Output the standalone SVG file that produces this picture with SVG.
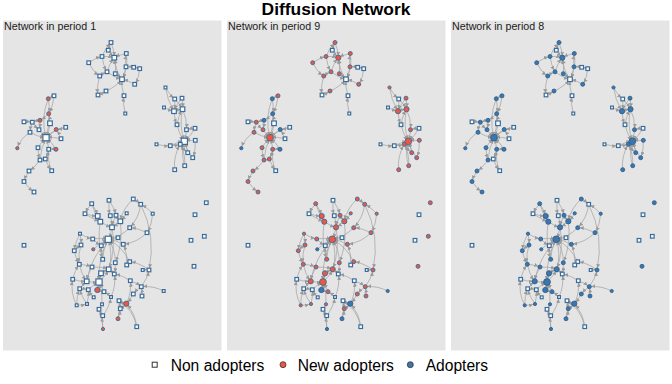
<svg xmlns="http://www.w3.org/2000/svg" xmlns:xlink="http://www.w3.org/1999/xlink" width="672" height="384" viewBox="0 0 672 384">
<style>
.w{fill:#fff;stroke:#3a6c9b;stroke-width:1.2}
.r{fill:#f2553e;stroke:#3a6c9b;stroke-width:0.9}
.b{fill:#3b77ad;stroke:#2e6190;stroke-width:0.9}
.e path{fill:none;stroke:#a2a2a2;stroke-opacity:0.8;stroke-width:0.9;marker-end:url(#ar)}
.pt{font-family:"Liberation Sans",Arial,sans-serif;font-size:10.7px;fill:#1a1a1a}
.lg{font-family:"Liberation Sans",Arial,sans-serif;font-size:15.6px;fill:#000}
.panel{fill:#e5e5e5}
</style>
<defs>
<marker id="ar" viewBox="0 0 10 10" refX="15" refY="5" markerWidth="4" markerHeight="4" markerUnits="userSpaceOnUse" orient="auto"><path d="M0 0L10 5L0 10z" fill="#9a9a9a"/></marker>
<rect id="wt" class="w" x="-1.4" y="-1.4" width="2.8" height="2.8"/>
<rect id="ws" class="w" x="-1.8" y="-1.8" width="3.6" height="3.6"/>
<rect id="wm" class="w" x="-2.3" y="-2.3" width="4.6" height="4.6"/>
<rect id="wl" class="w" x="-3.1" y="-3.1" width="6.2" height="6.2"/>
<circle id="rt" class="r" r="1.6"/>
<circle id="rs" class="r" r="2"/>
<circle id="rm" class="r" r="2.6"/>
<circle id="rl" class="r" r="3.4"/>
<circle id="bt" class="b" r="1.6"/>
<circle id="bs" class="b" r="2"/>
<circle id="bm" class="b" r="2.6"/>
<circle id="bl" class="b" r="3.4"/>
<g id="edges" class="e">
<path d="M108.3 50.2A40 40 0 0 1 111 42.5"/>
<path d="M102 56.5A40 40 0 0 1 111 42.5"/>
<path d="M111 42.5A40 40 0 0 1 114.3 57.7"/>
<path d="M108.3 50.2A40 40 0 0 0 114.3 57.7"/>
<path d="M102 56.5A40 40 0 0 1 114.3 57.7"/>
<path d="M126.3 53.5A40 40 0 0 0 114.3 57.7"/>
<path d="M88.7 62.7A40 40 0 0 1 102 56.5"/>
<path d="M88.7 62.7A30 30 0 0 0 99.7 76"/>
<path d="M107 71.8A40 40 0 0 1 114.3 57.7"/>
<path d="M115.3 73.7A40 40 0 0 0 114.3 57.7"/>
<path d="M122 79.3A40 40 0 0 1 114.3 57.7"/>
<path d="M126 66.8A40 40 0 0 1 126.3 53.5"/>
<path d="M126 66.8A40 40 0 0 1 122 79.3"/>
<path d="M133.7 67.3A40 40 0 0 0 126 66.8"/>
<path d="M139.7 68.7A40 40 0 0 0 133.7 67.3"/>
<path d="M139.7 68.7A30 30 0 0 1 134.7 84.3"/>
<path d="M134.7 84.3A40 40 0 0 0 122 79.3"/>
<path d="M107 71.8A40 40 0 0 0 122 79.3"/>
<path d="M115.3 73.7A40 40 0 0 1 122 79.3"/>
<path d="M99.7 76A40 40 0 0 1 107 71.8"/>
<path d="M106 91A40 40 0 0 0 122 79.3"/>
<path d="M98 95A40 40 0 0 0 106 91"/>
<path d="M99.7 76A40 40 0 0 0 98 95"/>
<path d="M124 95.7A40 40 0 0 1 122 79.3"/>
<path d="M125.3 113.5A40 40 0 0 1 124 95.7"/>
<path d="M126.3 53.5A40 40 0 0 1 122 79.3"/>
<path d="M102 56.5A40 40 0 0 0 107 71.8"/>
<path d="M165.5 87.5A40 40 0 0 0 174.7 99"/>
<path d="M165.5 87.5A60 60 0 0 0 174 111.2"/>
<path d="M174.7 99A40 40 0 0 1 174 111.2"/>
<path d="M182 98.2A40 40 0 0 0 174 111.2"/>
<path d="M182 98.2A40 40 0 0 1 182.5 109.2"/>
<path d="M164 107.5A40 40 0 0 0 174 111.2"/>
<path d="M174 111.2A40 40 0 0 1 182.5 109.2"/>
<path d="M174.7 99A40 40 0 0 1 182.5 109.2"/>
<path d="M182.5 109.2A40 40 0 0 1 186.5 129.7"/>
<path d="M177 124.7A40 40 0 0 0 184.3 141.3"/>
<path d="M186.5 129.7A40 40 0 0 1 184.3 141.3"/>
<path d="M195 128.3A40 40 0 0 1 184.3 141.3"/>
<path d="M195 128.3A40 40 0 0 0 186.5 129.7"/>
<path d="M180.3 144.3A40 40 0 0 0 184.3 141.3"/>
<path d="M195.3 140.3A40 40 0 0 0 184.3 141.3"/>
<path d="M156.5 144.3A40 40 0 0 0 170.3 145.7"/>
<path d="M170.3 145.7A40 40 0 0 0 180.3 144.3"/>
<path d="M187.7 152.7A40 40 0 0 0 184.3 141.3"/>
<path d="M192.7 157.7A40 40 0 0 1 184.3 141.3"/>
<path d="M184.7 165.7A40 40 0 0 1 184.3 141.3"/>
<path d="M174.7 169.7A40 40 0 0 1 180.3 144.3"/>
<path d="M182.5 109.2A60 60 0 0 0 184.3 141.3"/>
<path d="M177 124.7A40 40 0 0 1 182.5 109.2"/>
<path d="M195.3 140.3A40 40 0 0 1 192.7 157.7"/>
<path d="M180.3 144.3A40 40 0 0 0 187.7 152.7"/>
<path d="M170.3 145.7A40 40 0 0 1 184.3 141.3"/>
<path d="M184.7 165.7A40 40 0 0 0 180.3 144.3"/>
<path d="M174 111.2A40 40 0 0 0 177 124.7"/>
<path d="M54 95.8A40 40 0 0 0 48.3 98.7"/>
<path d="M48.3 98.7A40 40 0 0 1 48.7 113.7"/>
<path d="M54 95.8A40 40 0 0 1 48.7 113.7"/>
<path d="M48.7 113.7A40 40 0 0 1 40 120.3"/>
<path d="M48.7 113.7A60 60 0 0 1 46 137.7"/>
<path d="M40 120.3A40 40 0 0 0 32.3 122.2"/>
<path d="M24 121.8A40 40 0 0 1 32.3 122.2"/>
<path d="M32.3 122.2A40 40 0 0 0 39 129.7"/>
<path d="M50 123.3A40 40 0 0 1 46 137.7"/>
<path d="M39 129.7A40 40 0 0 0 46 137.7"/>
<path d="M56.2 129.5A40 40 0 0 0 46 137.7"/>
<path d="M65.7 127.3A40 40 0 0 0 46 137.7"/>
<path d="M30 132.3A40 40 0 0 0 46 137.7"/>
<path d="M30 132.3A30 30 0 0 0 17.3 148.2"/>
<path d="M61 138.7A40 40 0 0 0 46 137.7"/>
<path d="M38 147.7A40 40 0 0 1 46 137.7"/>
<path d="M48.7 149.3A40 40 0 0 0 46 137.7"/>
<path d="M56 149.3A40 40 0 0 0 46 137.7"/>
<path d="M61 138.7A40 40 0 0 0 56.2 129.5"/>
<path d="M38 147.7A40 40 0 0 0 40 160"/>
<path d="M48.7 149.3A40 40 0 0 1 45.3 159"/>
<path d="M45.3 159A40 40 0 0 1 40 160"/>
<path d="M56 149.3A40 40 0 0 0 48.7 149.3"/>
<path d="M45.3 159A40 40 0 0 0 51.7 170.7"/>
<path d="M40 160A40 40 0 0 1 29 171"/>
<path d="M29 171A40 40 0 0 0 24 181.5"/>
<path d="M24 181.5A40 40 0 0 0 34 192"/>
<path d="M40 120.3A40 40 0 0 1 39 129.7"/>
<path d="M50 123.3A40 40 0 0 0 48.7 113.7"/>
<path d="M65.7 127.3A40 40 0 0 1 56.2 129.5"/>
<path d="M48.3 98.7A60 60 0 0 0 46 137.7"/>
<path d="M32.3 122.2A40 40 0 0 0 30 132.3"/>
<path d="M40 160A60 60 0 0 1 46 137.7"/>
<path d="M51.7 170.7A40 40 0 0 1 48.7 149.3"/>
<path d="M91.7 203.7A40 40 0 0 1 97.7 216"/>
<path d="M91.7 203.7A60 60 0 0 0 100.3 221.7"/>
<path d="M109 200.3A40 40 0 0 0 110.3 215.7"/>
<path d="M109 200.3A40 40 0 0 1 116 215.3"/>
<path d="M133.3 199A40 40 0 0 1 140.7 204.3"/>
<path d="M133.3 199A40 40 0 0 0 120.3 221.3"/>
<path d="M140.7 204.3A40 40 0 0 1 129.7 227.7"/>
<path d="M152.7 213.7A40 40 0 0 1 147 232.7"/>
<path d="M85 213.7A40 40 0 0 0 97.7 216"/>
<path d="M85 213.7A60 60 0 0 0 100.3 221.7"/>
<path d="M97.7 216A40 40 0 0 0 100.3 221.7"/>
<path d="M110.3 215.7A40 40 0 0 1 112 227.3"/>
<path d="M116 215.3A40 40 0 0 0 120.3 221.3"/>
<path d="M126.7 213.3A40 40 0 0 1 120.3 221.3"/>
<path d="M100.3 221.7A40 40 0 0 0 112 227.3"/>
<path d="M120.3 221.3A40 40 0 0 1 112 227.3"/>
<path d="M112 227.3A40 40 0 0 1 108.3 239.3"/>
<path d="M129.7 227.7A40 40 0 0 1 108.3 239.3"/>
<path d="M147 232.7A40 40 0 0 0 129.7 227.7"/>
<path d="M80 233.7A40 40 0 0 0 92.7 239"/>
<path d="M80 233.7A40 40 0 0 1 81 245"/>
<path d="M118 237.7A40 40 0 0 0 108.3 239.3"/>
<path d="M92.7 239A40 40 0 0 1 108.3 239.3"/>
<path d="M123.3 244.3A40 40 0 0 0 108.3 239.3"/>
<path d="M81 245A40 40 0 0 0 74.3 250.7"/>
<path d="M101.3 245.7A40 40 0 0 0 108.3 239.3"/>
<path d="M74.3 250.7A40 40 0 0 0 79.3 264.3"/>
<path d="M93.3 249.3A40 40 0 0 1 108.3 239.3"/>
<path d="M102.7 259.3A40 40 0 0 1 108.3 239.3"/>
<path d="M115.3 262.7A40 40 0 0 0 108.3 239.3"/>
<path d="M129.7 261.7A50 50 0 0 0 108.3 239.3"/>
<path d="M129.7 261.7A40 40 0 0 1 126.7 265"/>
<path d="M126.7 265A40 40 0 0 0 123.3 244.3"/>
<path d="M79.3 264.3A40 40 0 0 0 86.7 281.3"/>
<path d="M92 267A40 40 0 0 1 108.7 269.3"/>
<path d="M108.7 269.3A50 50 0 0 0 108.3 239.3"/>
<path d="M142.7 270A40 40 0 0 1 149 270"/>
<path d="M149 270A40 40 0 0 0 129.7 261.7"/>
<path d="M101 273.3A40 40 0 0 1 108.7 269.3"/>
<path d="M114.3 274A40 40 0 0 0 108.7 269.3"/>
<path d="M72.7 279.3A40 40 0 0 0 86.7 281.3"/>
<path d="M86.7 281.3A40 40 0 0 0 99 282"/>
<path d="M99 282A40 40 0 0 0 108.7 269.3"/>
<path d="M130.3 280.7A40 40 0 0 1 141.3 286.7"/>
<path d="M79.7 288.7A40 40 0 0 1 86.7 281.3"/>
<path d="M88.3 289.7A40 40 0 0 1 99 282"/>
<path d="M97.3 290A40 40 0 0 0 99 282"/>
<path d="M104 291.7A40 40 0 0 0 99 282"/>
<path d="M141.3 286.7A40 40 0 0 0 133.3 294"/>
<path d="M163.7 291A40 40 0 0 0 141.3 286.7"/>
<path d="M133.3 294A40 40 0 0 1 126.3 303.7"/>
<path d="M142 296A40 40 0 0 0 141.3 286.7"/>
<path d="M111 297A40 40 0 0 0 104 291.7"/>
<path d="M93.7 297.3A40 40 0 0 1 88.3 289.7"/>
<path d="M119 300.7A40 40 0 0 0 126.3 303.7"/>
<path d="M102 304.3A50 50 0 0 0 99 282"/>
<path d="M76.7 305.3A40 40 0 0 1 79.7 288.7"/>
<path d="M87 304A40 40 0 0 0 88.3 289.7"/>
<path d="M126.3 303.7A40 40 0 0 0 130.3 280.7"/>
<path d="M99 309.3A40 40 0 0 0 102 304.3"/>
<path d="M120.3 308.7A40 40 0 0 0 126.3 303.7"/>
<path d="M102.7 315.7A40 40 0 0 1 99 309.3"/>
<path d="M118 318.7A40 40 0 0 0 119 300.7"/>
<path d="M136.7 326.7A40 40 0 0 0 126.3 303.7"/>
<path d="M103 329A40 40 0 0 1 102.7 315.7"/>
<path d="M115.3 262.7A40 40 0 0 1 114.3 274"/>
<path d="M101 273.3A40 40 0 0 0 99 282"/>
<path d="M102.7 259.3A40 40 0 0 1 101.3 245.7"/>
<path d="M92.7 239A40 40 0 0 0 101.3 245.7"/>
<path d="M120.3 221.3A80 80 0 0 1 115.3 262.7"/>
<path d="M100.3 221.7A80 80 0 0 0 102.7 259.3"/>
<path d="M112 227.3A80 80 0 0 1 108.7 269.3"/>
<path d="M108.3 239.3A80 80 0 0 0 99 282"/>
<path d="M108.3 239.3A80 80 0 0 0 86.7 281.3"/>
<path d="M92 267A40 40 0 0 0 86.7 281.3"/>
<path d="M81 245A40 40 0 0 0 79.3 264.3"/>
<path d="M76.7 305.3A40 40 0 0 1 72.7 279.3"/>
<path d="M87 304A40 40 0 0 1 79.7 288.7"/>
<path d="M97.3 290A40 40 0 0 0 104 291.7"/>
<path d="M118 318.7A40 40 0 0 0 120.3 308.7"/>
<path d="M130.3 280.7A40 40 0 0 0 114.3 274"/>
<path d="M141.3 286.7A40 40 0 0 0 149 270"/>
<path d="M140.7 204.3A100 100 0 0 1 149 270"/>
<path d="M136.7 326.7A40 40 0 0 0 119 300.7"/>
<path d="M103 329A50 50 0 0 0 99 309.3"/>
<path d="M80 233.7A40 40 0 0 0 74.3 250.7"/>
<path d="M79.3 264.3A40 40 0 0 1 92 267"/>
<path d="M116 215.3A40 40 0 0 0 112 227.3"/>
<path d="M91.7 203.7A40 40 0 0 0 85 213.7"/>
<path d="M147 232.7A40 40 0 0 1 123.3 244.3"/>
<path d="M111 297A40 40 0 0 0 114.3 274"/>
<path d="M102.7 315.7A40 40 0 0 0 111 297"/>
<path d="M79.7 288.7A40 40 0 0 1 88.3 289.7"/>
<path d="M72.7 279.3A40 40 0 0 1 79.3 264.3"/>
<path d="M76.7 305.3A40 40 0 0 0 87 304"/>
<path d="M152.7 213.7A40 40 0 0 0 140.7 204.3"/>
</g>
</defs>
<rect width="672" height="384" fill="#fff"/>
<text x="336" y="14.5" text-anchor="middle" font-family="Liberation Sans, Arial, sans-serif" font-weight="bold" font-size="17.4" fill="#000">Diffusion Network</text>
<g id="panels">
<rect class="panel" x="3" y="20.5" width="218.5" height="330"/>
<rect class="panel" x="227" y="20.5" width="218.5" height="330"/>
<rect class="panel" x="451" y="20.5" width="218.5" height="330"/>
<text class="pt" x="4" y="29.5">Network in period 1</text>
<text class="pt" x="228" y="29.5">Network in period 9</text>
<text class="pt" x="452" y="29.5">Network in period 8</text>
</g>
<g id="connectors">
<use href="#edges"/>
<use href="#edges" x="224"/>
<use href="#edges" x="448"/>
</g>
<g id="nodes-p1">
<g id="a-T1"><use href="#ws" x="111" y="42.5"/></g>
<g id="a-T2"><use href="#ws" x="108.3" y="50.2"/></g>
<g id="a-T3"><use href="#ws" x="102" y="56.5"/></g>
<g id="a-T4"><use href="#wm" x="114.3" y="57.7"/></g>
<g id="a-T5"><use href="#ws" x="126.3" y="53.5"/></g>
<g id="a-T6"><use href="#ws" x="88.7" y="62.7"/></g>
<g id="a-T7"><use href="#ws" x="126" y="66.8"/></g>
<g id="a-T8"><use href="#ws" x="133.7" y="67.3"/></g>
<g id="a-T9"><use href="#ws" x="139.7" y="68.7"/></g>
<g id="a-T10"><use href="#ws" x="107" y="71.8"/></g>
<g id="a-T11"><use href="#ws" x="115.3" y="73.7"/></g>
<g id="a-T12"><use href="#ws" x="99.7" y="76"/></g>
<g id="a-T13"><use href="#wm" x="122" y="79.3"/></g>
<g id="a-T14"><use href="#ws" x="134.7" y="84.3"/></g>
<g id="a-T15"><use href="#ws" x="106" y="91"/></g>
<g id="a-T16"><use href="#ws" x="98" y="95"/></g>
<g id="a-T17"><use href="#ws" x="124" y="95.7"/></g>
<g id="a-T18"><use href="#wt" x="125.3" y="113.5"/></g>
<g id="a-R1"><use href="#wt" x="165.5" y="87.5"/></g>
<g id="a-R2"><use href="#ws" x="174.7" y="99"/></g>
<g id="a-R3"><use href="#ws" x="182" y="98.2"/></g>
<g id="a-R4"><use href="#wt" x="164" y="107.5"/></g>
<g id="a-R5"><use href="#wm" x="174" y="111.2"/></g>
<g id="a-R6"><use href="#wm" x="182.5" y="109.2"/></g>
<g id="a-R7"><use href="#ws" x="177" y="124.7"/></g>
<g id="a-R8"><use href="#ws" x="186.5" y="129.7"/></g>
<g id="a-R9"><use href="#ws" x="195" y="128.3"/></g>
<g id="a-R10"><use href="#wl" x="184.3" y="141.3"/></g>
<g id="a-R11"><use href="#ws" x="180.3" y="144.3"/></g>
<g id="a-R12"><use href="#ws" x="195.3" y="140.3"/></g>
<g id="a-R13"><use href="#wt" x="156.5" y="144.3"/></g>
<g id="a-R14"><use href="#ws" x="170.3" y="145.7"/></g>
<g id="a-R15"><use href="#ws" x="187.7" y="152.7"/></g>
<g id="a-R16"><use href="#ws" x="192.7" y="157.7"/></g>
<g id="a-R17"><use href="#ws" x="184.7" y="165.7"/></g>
<g id="a-R18"><use href="#ws" x="174.7" y="169.7"/></g>
<g id="a-L1"><use href="#ws" x="54" y="95.8"/></g>
<g id="a-L2"><use href="#rs" x="48.3" y="98.7"/></g>
<g id="a-L3"><use href="#rs" x="48.7" y="113.7"/></g>
<g id="a-L4"><use href="#rs" x="40" y="120.3"/></g>
<g id="a-L5"><use href="#ws" x="24" y="121.8"/></g>
<g id="a-L6"><use href="#ws" x="32.3" y="122.2"/></g>
<g id="a-L7"><use href="#wm" x="50" y="123.3"/></g>
<g id="a-L8"><use href="#ws" x="39" y="129.7"/></g>
<g id="a-L9"><use href="#rs" x="56.2" y="129.5"/></g>
<g id="a-L10"><use href="#ws" x="65.7" y="127.3"/></g>
<g id="a-L11"><use href="#ws" x="30" y="132.3"/></g>
<g id="a-L12"><use href="#wl" x="46" y="137.7"/></g>
<g id="a-L13"><use href="#ws" x="61" y="138.7"/></g>
<g id="a-L14"><use href="#ws" x="38" y="147.7"/></g>
<g id="a-L15"><use href="#rt" x="17.3" y="148.2"/></g>
<g id="a-L16"><use href="#ws" x="48.7" y="149.3"/></g>
<g id="a-L17"><use href="#rs" x="56" y="149.3"/></g>
<g id="a-L18"><use href="#ws" x="45.3" y="159"/></g>
<g id="a-L19"><use href="#ws" x="40" y="160"/></g>
<g id="a-L20"><use href="#ws" x="51.7" y="170.7"/></g>
<g id="a-L21"><use href="#ws" x="29" y="171"/></g>
<g id="a-L22"><use href="#ws" x="24" y="181.5"/></g>
<g id="a-L23"><use href="#ws" x="34" y="192"/></g>
<g id="a-B1"><use href="#ws" x="91.7" y="203.7"/></g>
<g id="a-B2"><use href="#ws" x="109" y="200.3"/></g>
<g id="a-B3"><use href="#ws" x="133.3" y="199"/></g>
<g id="a-B4"><use href="#ws" x="140.7" y="204.3"/></g>
<g id="a-B5"><use href="#wt" x="152.7" y="213.7"/></g>
<g id="a-B6"><use href="#ws" x="85" y="213.7"/></g>
<g id="a-B7"><use href="#wm" x="97.7" y="216"/></g>
<g id="a-B8"><use href="#ws" x="110.3" y="215.7"/></g>
<g id="a-B9"><use href="#ws" x="116" y="215.3"/></g>
<g id="a-B10"><use href="#wt" x="126.7" y="213.3"/></g>
<g id="a-B11"><use href="#wm" x="100.3" y="221.7"/></g>
<g id="a-B12"><use href="#wm" x="120.3" y="221.3"/></g>
<g id="a-B13"><use href="#wm" x="112" y="227.3"/></g>
<g id="a-B14"><use href="#ws" x="129.7" y="227.7"/></g>
<g id="a-B15"><use href="#ws" x="147" y="232.7"/></g>
<g id="a-B16"><use href="#wt" x="80" y="233.7"/></g>
<g id="a-B17"><use href="#wl" x="108.3" y="239.3"/></g>
<g id="a-B18"><use href="#ws" x="118" y="237.7"/></g>
<g id="a-B19"><use href="#ws" x="92.7" y="239"/></g>
<g id="a-B20"><use href="#ws" x="123.3" y="244.3"/></g>
<g id="a-B21"><use href="#ws" x="81" y="245"/></g>
<g id="a-B22"><use href="#ws" x="101.3" y="245.7"/></g>
<g id="a-B23"><use href="#ws" x="74.3" y="250.7"/></g>
<g id="a-B24"><use href="#rt" x="93.3" y="249.3"/></g>
<g id="a-B25"><use href="#ws" x="102.7" y="259.3"/></g>
<g id="a-B26"><use href="#ws" x="115.3" y="262.7"/></g>
<g id="a-B27"><use href="#ws" x="129.7" y="261.7"/></g>
<g id="a-B28"><use href="#ws" x="126.7" y="265"/></g>
<g id="a-B29"><use href="#ws" x="79.3" y="264.3"/></g>
<g id="a-B30"><use href="#ws" x="92" y="267"/></g>
<g id="a-B31"><use href="#wm" x="108.7" y="269.3"/></g>
<g id="a-B32"><use href="#wt" x="142.7" y="270"/></g>
<g id="a-B33"><use href="#ws" x="149" y="270"/></g>
<g id="a-B34"><use href="#wm" x="101" y="273.3"/></g>
<g id="a-B35"><use href="#ws" x="114.3" y="274"/></g>
<g id="a-B36"><use href="#ws" x="72.7" y="279.3"/></g>
<g id="a-B37"><use href="#wm" x="86.7" y="281.3"/></g>
<g id="a-B38"><use href="#wl" x="99" y="282"/></g>
<g id="a-B39"><use href="#ws" x="130.3" y="280.7"/></g>
<g id="a-B40"><use href="#ws" x="79.7" y="288.7"/></g>
<g id="a-B41"><use href="#ws" x="88.3" y="289.7"/></g>
<g id="a-B42"><use href="#rm" x="97.3" y="290"/></g>
<g id="a-B43"><use href="#ws" x="104" y="291.7"/></g>
<g id="a-B44"><use href="#ws" x="141.3" y="286.7"/></g>
<g id="a-B45"><use href="#wt" x="163.7" y="291"/></g>
<g id="a-B46"><use href="#ws" x="133.3" y="294"/></g>
<g id="a-B47"><use href="#ws" x="142" y="296"/></g>
<g id="a-B48"><use href="#wt" x="111" y="297"/></g>
<g id="a-B49"><use href="#wt" x="93.7" y="297.3"/></g>
<g id="a-B50"><use href="#ws" x="119" y="300.7"/></g>
<g id="a-B51"><use href="#wt" x="102" y="304.3"/></g>
<g id="a-B52"><use href="#wt" x="76.7" y="305.3"/></g>
<g id="a-B53"><use href="#wt" x="87" y="304"/></g>
<g id="a-B54"><use href="#rm" x="126.3" y="303.7"/></g>
<g id="a-B55"><use href="#ws" x="99" y="309.3"/></g>
<g id="a-B56"><use href="#ws" x="120.3" y="308.7"/></g>
<g id="a-B57"><use href="#ws" x="102.7" y="315.7"/></g>
<g id="a-B58"><use href="#rs" x="118" y="318.7"/></g>
<g id="a-B59"><use href="#ws" x="136.7" y="326.7"/></g>
<g id="a-B60"><use href="#rt" x="103" y="329"/></g>
<g id="a-I1"><use href="#ws" x="24" y="245.3"/></g>
<g id="a-I2"><use href="#ws" x="206.3" y="202.7"/></g>
<g id="a-I3"><use href="#ws" x="195" y="214.7"/></g>
<g id="a-I4"><use href="#ws" x="191" y="240.3"/></g>
<g id="a-I5"><use href="#ws" x="204.3" y="236.3"/></g>
<g id="a-I6"><use href="#ws" x="194" y="266.3"/></g>
</g>
<g id="nodes-p2" transform="translate(224 0)">
<g id="b-T1"><use href="#rs" x="111" y="42.5"/></g>
<g id="b-T2"><use href="#ws" x="108.3" y="50.2"/></g>
<g id="b-T3"><use href="#rs" x="102" y="56.5"/></g>
<g id="b-T4"><use href="#rm" x="114.3" y="57.7"/></g>
<g id="b-T5"><use href="#rs" x="126.3" y="53.5"/></g>
<g id="b-T6"><use href="#rs" x="88.7" y="62.7"/></g>
<g id="b-T7"><use href="#rs" x="126" y="66.8"/></g>
<g id="b-T8"><use href="#ws" x="133.7" y="67.3"/></g>
<g id="b-T9"><use href="#ws" x="139.7" y="68.7"/></g>
<g id="b-T10"><use href="#rs" x="107" y="71.8"/></g>
<g id="b-T11"><use href="#rs" x="115.3" y="73.7"/></g>
<g id="b-T12"><use href="#rs" x="99.7" y="76"/></g>
<g id="b-T13"><use href="#wm" x="122" y="79.3"/></g>
<g id="b-T14"><use href="#rs" x="134.7" y="84.3"/></g>
<g id="b-T15"><use href="#rs" x="106" y="91"/></g>
<g id="b-T16"><use href="#ws" x="98" y="95"/></g>
<g id="b-T17"><use href="#ws" x="124" y="95.7"/></g>
<g id="b-T18"><use href="#wt" x="125.3" y="113.5"/></g>
<g id="b-R1"><use href="#rt" x="165.5" y="87.5"/></g>
<g id="b-R2"><use href="#ws" x="174.7" y="99"/></g>
<g id="b-R3"><use href="#rs" x="182" y="98.2"/></g>
<g id="b-R4"><use href="#wt" x="164" y="107.5"/></g>
<g id="b-R5"><use href="#rm" x="174" y="111.2"/></g>
<g id="b-R6"><use href="#rm" x="182.5" y="109.2"/></g>
<g id="b-R7"><use href="#ws" x="177" y="124.7"/></g>
<g id="b-R8"><use href="#rs" x="186.5" y="129.7"/></g>
<g id="b-R9"><use href="#ws" x="195" y="128.3"/></g>
<g id="b-R10"><use href="#rl" x="184.3" y="141.3"/></g>
<g id="b-R11"><use href="#rs" x="180.3" y="144.3"/></g>
<g id="b-R12"><use href="#rs" x="195.3" y="140.3"/></g>
<g id="b-R13"><use href="#wt" x="156.5" y="144.3"/></g>
<g id="b-R14"><use href="#ws" x="170.3" y="145.7"/></g>
<g id="b-R15"><use href="#rs" x="187.7" y="152.7"/></g>
<g id="b-R16"><use href="#rs" x="192.7" y="157.7"/></g>
<g id="b-R17"><use href="#rs" x="184.7" y="165.7"/></g>
<g id="b-R18"><use href="#rs" x="174.7" y="169.7"/></g>
<g id="b-L1"><use href="#rs" x="54" y="95.8"/></g>
<g id="b-L2"><use href="#bs" x="48.3" y="98.7"/></g>
<g id="b-L3"><use href="#bs" x="48.7" y="113.7"/></g>
<g id="b-L4"><use href="#bs" x="40" y="120.3"/></g>
<g id="b-L5"><use href="#ws" x="24" y="121.8"/></g>
<g id="b-L6"><use href="#rs" x="32.3" y="122.2"/></g>
<g id="b-L7"><use href="#wm" x="50" y="123.3"/></g>
<g id="b-L8"><use href="#rs" x="39" y="129.7"/></g>
<g id="b-L9"><use href="#bs" x="56.2" y="129.5"/></g>
<g id="b-L10"><use href="#ws" x="65.7" y="127.3"/></g>
<g id="b-L11"><use href="#rs" x="30" y="132.3"/></g>
<g id="b-L12"><use href="#rl" x="46" y="137.7"/></g>
<g id="b-L13"><use href="#ws" x="61" y="138.7"/></g>
<g id="b-L14"><use href="#rs" x="38" y="147.7"/></g>
<g id="b-L15"><use href="#bt" x="17.3" y="148.2"/></g>
<g id="b-L16"><use href="#rs" x="48.7" y="149.3"/></g>
<g id="b-L17"><use href="#bs" x="56" y="149.3"/></g>
<g id="b-L18"><use href="#rs" x="45.3" y="159"/></g>
<g id="b-L19"><use href="#rs" x="40" y="160"/></g>
<g id="b-L20"><use href="#ws" x="51.7" y="170.7"/></g>
<g id="b-L21"><use href="#rs" x="29" y="171"/></g>
<g id="b-L22"><use href="#rs" x="24" y="181.5"/></g>
<g id="b-L23"><use href="#rs" x="34" y="192"/></g>
<g id="b-B1"><use href="#rs" x="91.7" y="203.7"/></g>
<g id="b-B2"><use href="#ws" x="109" y="200.3"/></g>
<g id="b-B3"><use href="#rs" x="133.3" y="199"/></g>
<g id="b-B4"><use href="#rs" x="140.7" y="204.3"/></g>
<g id="b-B5"><use href="#rt" x="152.7" y="213.7"/></g>
<g id="b-B6"><use href="#ws" x="85" y="213.7"/></g>
<g id="b-B7"><use href="#rm" x="97.7" y="216"/></g>
<g id="b-B8"><use href="#ws" x="110.3" y="215.7"/></g>
<g id="b-B9"><use href="#rs" x="116" y="215.3"/></g>
<g id="b-B10"><use href="#rt" x="126.7" y="213.3"/></g>
<g id="b-B11"><use href="#rm" x="100.3" y="221.7"/></g>
<g id="b-B12"><use href="#rm" x="120.3" y="221.3"/></g>
<g id="b-B13"><use href="#rm" x="112" y="227.3"/></g>
<g id="b-B14"><use href="#rs" x="129.7" y="227.7"/></g>
<g id="b-B15"><use href="#rs" x="147" y="232.7"/></g>
<g id="b-B16"><use href="#rt" x="80" y="233.7"/></g>
<g id="b-B17"><use href="#rl" x="108.3" y="239.3"/></g>
<g id="b-B18"><use href="#ws" x="118" y="237.7"/></g>
<g id="b-B19"><use href="#rs" x="92.7" y="239"/></g>
<g id="b-B20"><use href="#rs" x="123.3" y="244.3"/></g>
<g id="b-B21"><use href="#rs" x="81" y="245"/></g>
<g id="b-B22"><use href="#ws" x="101.3" y="245.7"/></g>
<g id="b-B23"><use href="#rs" x="74.3" y="250.7"/></g>
<g id="b-B24"><use href="#bt" x="93.3" y="249.3"/></g>
<g id="b-B25"><use href="#rs" x="102.7" y="259.3"/></g>
<g id="b-B26"><use href="#rs" x="115.3" y="262.7"/></g>
<g id="b-B27"><use href="#rs" x="129.7" y="261.7"/></g>
<g id="b-B28"><use href="#ws" x="126.7" y="265"/></g>
<g id="b-B29"><use href="#rs" x="79.3" y="264.3"/></g>
<g id="b-B30"><use href="#rs" x="92" y="267"/></g>
<g id="b-B31"><use href="#rm" x="108.7" y="269.3"/></g>
<g id="b-B32"><use href="#wt" x="142.7" y="270"/></g>
<g id="b-B33"><use href="#rs" x="149" y="270"/></g>
<g id="b-B34"><use href="#rm" x="101" y="273.3"/></g>
<g id="b-B35"><use href="#ws" x="114.3" y="274"/></g>
<g id="b-B36"><use href="#ws" x="72.7" y="279.3"/></g>
<g id="b-B37"><use href="#rm" x="86.7" y="281.3"/></g>
<g id="b-B38"><use href="#rl" x="99" y="282"/></g>
<g id="b-B39"><use href="#ws" x="130.3" y="280.7"/></g>
<g id="b-B40"><use href="#ws" x="79.7" y="288.7"/></g>
<g id="b-B41"><use href="#ws" x="88.3" y="289.7"/></g>
<g id="b-B42"><use href="#bm" x="97.3" y="290"/></g>
<g id="b-B43"><use href="#rs" x="104" y="291.7"/></g>
<g id="b-B44"><use href="#rs" x="141.3" y="286.7"/></g>
<g id="b-B45"><use href="#bt" x="163.7" y="291"/></g>
<g id="b-B46"><use href="#rs" x="133.3" y="294"/></g>
<g id="b-B47"><use href="#rs" x="142" y="296"/></g>
<g id="b-B48"><use href="#wt" x="111" y="297"/></g>
<g id="b-B49"><use href="#wt" x="93.7" y="297.3"/></g>
<g id="b-B50"><use href="#ws" x="119" y="300.7"/></g>
<g id="b-B51"><use href="#rt" x="102" y="304.3"/></g>
<g id="b-B52"><use href="#rt" x="76.7" y="305.3"/></g>
<g id="b-B53"><use href="#rt" x="87" y="304"/></g>
<g id="b-B54"><use href="#bm" x="126.3" y="303.7"/></g>
<g id="b-B55"><use href="#ws" x="99" y="309.3"/></g>
<g id="b-B56"><use href="#rs" x="120.3" y="308.7"/></g>
<g id="b-B57"><use href="#ws" x="102.7" y="315.7"/></g>
<g id="b-B58"><use href="#bs" x="118" y="318.7"/></g>
<g id="b-B59"><use href="#ws" x="136.7" y="326.7"/></g>
<g id="b-B60"><use href="#bt" x="103" y="329"/></g>
<g id="b-I1"><use href="#ws" x="24" y="245.3"/></g>
<g id="b-I2"><use href="#rs" x="206.3" y="202.7"/></g>
<g id="b-I3"><use href="#ws" x="195" y="214.7"/></g>
<g id="b-I4"><use href="#ws" x="191" y="240.3"/></g>
<g id="b-I5"><use href="#rs" x="204.3" y="236.3"/></g>
<g id="b-I6"><use href="#rs" x="194" y="266.3"/></g>
</g>
<g id="nodes-p3" transform="translate(448 0)">
<g id="c-T1"><use href="#bs" x="111" y="42.5"/></g>
<g id="c-T2"><use href="#ws" x="108.3" y="50.2"/></g>
<g id="c-T3"><use href="#bs" x="102" y="56.5"/></g>
<g id="c-T4"><use href="#bm" x="114.3" y="57.7"/></g>
<g id="c-T5"><use href="#bs" x="126.3" y="53.5"/></g>
<g id="c-T6"><use href="#bs" x="88.7" y="62.7"/></g>
<g id="c-T7"><use href="#bs" x="126" y="66.8"/></g>
<g id="c-T8"><use href="#ws" x="133.7" y="67.3"/></g>
<g id="c-T9"><use href="#ws" x="139.7" y="68.7"/></g>
<g id="c-T10"><use href="#bs" x="107" y="71.8"/></g>
<g id="c-T11"><use href="#bs" x="115.3" y="73.7"/></g>
<g id="c-T12"><use href="#bs" x="99.7" y="76"/></g>
<g id="c-T13"><use href="#wm" x="122" y="79.3"/></g>
<g id="c-T14"><use href="#bs" x="134.7" y="84.3"/></g>
<g id="c-T15"><use href="#bs" x="106" y="91"/></g>
<g id="c-T16"><use href="#ws" x="98" y="95"/></g>
<g id="c-T17"><use href="#ws" x="124" y="95.7"/></g>
<g id="c-T18"><use href="#wt" x="125.3" y="113.5"/></g>
<g id="c-R1"><use href="#bt" x="165.5" y="87.5"/></g>
<g id="c-R2"><use href="#ws" x="174.7" y="99"/></g>
<g id="c-R3"><use href="#bs" x="182" y="98.2"/></g>
<g id="c-R4"><use href="#wt" x="164" y="107.5"/></g>
<g id="c-R5"><use href="#bm" x="174" y="111.2"/></g>
<g id="c-R6"><use href="#bm" x="182.5" y="109.2"/></g>
<g id="c-R7"><use href="#ws" x="177" y="124.7"/></g>
<g id="c-R8"><use href="#bs" x="186.5" y="129.7"/></g>
<g id="c-R9"><use href="#ws" x="195" y="128.3"/></g>
<g id="c-R10"><use href="#bl" x="184.3" y="141.3"/></g>
<g id="c-R11"><use href="#bs" x="180.3" y="144.3"/></g>
<g id="c-R12"><use href="#bs" x="195.3" y="140.3"/></g>
<g id="c-R13"><use href="#wt" x="156.5" y="144.3"/></g>
<g id="c-R14"><use href="#ws" x="170.3" y="145.7"/></g>
<g id="c-R15"><use href="#bs" x="187.7" y="152.7"/></g>
<g id="c-R16"><use href="#bs" x="192.7" y="157.7"/></g>
<g id="c-R17"><use href="#bs" x="184.7" y="165.7"/></g>
<g id="c-R18"><use href="#bs" x="174.7" y="169.7"/></g>
<g id="c-L1"><use href="#bs" x="54" y="95.8"/></g>
<g id="c-L2"><use href="#bs" x="48.3" y="98.7"/></g>
<g id="c-L3"><use href="#bs" x="48.7" y="113.7"/></g>
<g id="c-L4"><use href="#bs" x="40" y="120.3"/></g>
<g id="c-L5"><use href="#ws" x="24" y="121.8"/></g>
<g id="c-L6"><use href="#bs" x="32.3" y="122.2"/></g>
<g id="c-L7"><use href="#wm" x="50" y="123.3"/></g>
<g id="c-L8"><use href="#bs" x="39" y="129.7"/></g>
<g id="c-L9"><use href="#bs" x="56.2" y="129.5"/></g>
<g id="c-L10"><use href="#ws" x="65.7" y="127.3"/></g>
<g id="c-L11"><use href="#bs" x="30" y="132.3"/></g>
<g id="c-L12"><use href="#bl" x="46" y="137.7"/></g>
<g id="c-L13"><use href="#ws" x="61" y="138.7"/></g>
<g id="c-L14"><use href="#bs" x="38" y="147.7"/></g>
<g id="c-L15"><use href="#bt" x="17.3" y="148.2"/></g>
<g id="c-L16"><use href="#bs" x="48.7" y="149.3"/></g>
<g id="c-L17"><use href="#bs" x="56" y="149.3"/></g>
<g id="c-L18"><use href="#ws" x="45.3" y="159"/></g>
<g id="c-L19"><use href="#bs" x="40" y="160"/></g>
<g id="c-L20"><use href="#ws" x="51.7" y="170.7"/></g>
<g id="c-L21"><use href="#bs" x="29" y="171"/></g>
<g id="c-L22"><use href="#bs" x="24" y="181.5"/></g>
<g id="c-L23"><use href="#bs" x="34" y="192"/></g>
<g id="c-B1"><use href="#bs" x="91.7" y="203.7"/></g>
<g id="c-B2"><use href="#ws" x="109" y="200.3"/></g>
<g id="c-B3"><use href="#bs" x="133.3" y="199"/></g>
<g id="c-B4"><use href="#ws" x="140.7" y="204.3"/></g>
<g id="c-B5"><use href="#bt" x="152.7" y="213.7"/></g>
<g id="c-B6"><use href="#ws" x="85" y="213.7"/></g>
<g id="c-B7"><use href="#bm" x="97.7" y="216"/></g>
<g id="c-B8"><use href="#ws" x="110.3" y="215.7"/></g>
<g id="c-B9"><use href="#bs" x="116" y="215.3"/></g>
<g id="c-B10"><use href="#bt" x="126.7" y="213.3"/></g>
<g id="c-B11"><use href="#bm" x="100.3" y="221.7"/></g>
<g id="c-B12"><use href="#bm" x="120.3" y="221.3"/></g>
<g id="c-B13"><use href="#bm" x="112" y="227.3"/></g>
<g id="c-B14"><use href="#bs" x="129.7" y="227.7"/></g>
<g id="c-B15"><use href="#bs" x="147" y="232.7"/></g>
<g id="c-B16"><use href="#bt" x="80" y="233.7"/></g>
<g id="c-B17"><use href="#bl" x="108.3" y="239.3"/></g>
<g id="c-B18"><use href="#ws" x="118" y="237.7"/></g>
<g id="c-B19"><use href="#bs" x="92.7" y="239"/></g>
<g id="c-B20"><use href="#bs" x="123.3" y="244.3"/></g>
<g id="c-B21"><use href="#bs" x="81" y="245"/></g>
<g id="c-B22"><use href="#ws" x="101.3" y="245.7"/></g>
<g id="c-B23"><use href="#bs" x="74.3" y="250.7"/></g>
<g id="c-B24"><use href="#bt" x="93.3" y="249.3"/></g>
<g id="c-B25"><use href="#bs" x="102.7" y="259.3"/></g>
<g id="c-B26"><use href="#bs" x="115.3" y="262.7"/></g>
<g id="c-B27"><use href="#ws" x="129.7" y="261.7"/></g>
<g id="c-B28"><use href="#ws" x="126.7" y="265"/></g>
<g id="c-B29"><use href="#bs" x="79.3" y="264.3"/></g>
<g id="c-B30"><use href="#bs" x="92" y="267"/></g>
<g id="c-B31"><use href="#bm" x="108.7" y="269.3"/></g>
<g id="c-B32"><use href="#wt" x="142.7" y="270"/></g>
<g id="c-B33"><use href="#bs" x="149" y="270"/></g>
<g id="c-B34"><use href="#bm" x="101" y="273.3"/></g>
<g id="c-B35"><use href="#ws" x="114.3" y="274"/></g>
<g id="c-B36"><use href="#ws" x="72.7" y="279.3"/></g>
<g id="c-B37"><use href="#bm" x="86.7" y="281.3"/></g>
<g id="c-B38"><use href="#bl" x="99" y="282"/></g>
<g id="c-B39"><use href="#ws" x="130.3" y="280.7"/></g>
<g id="c-B40"><use href="#ws" x="79.7" y="288.7"/></g>
<g id="c-B41"><use href="#ws" x="88.3" y="289.7"/></g>
<g id="c-B42"><use href="#bm" x="97.3" y="290"/></g>
<g id="c-B43"><use href="#bs" x="104" y="291.7"/></g>
<g id="c-B44"><use href="#bs" x="141.3" y="286.7"/></g>
<g id="c-B45"><use href="#bt" x="163.7" y="291"/></g>
<g id="c-B46"><use href="#bs" x="133.3" y="294"/></g>
<g id="c-B47"><use href="#bs" x="142" y="296"/></g>
<g id="c-B48"><use href="#wt" x="111" y="297"/></g>
<g id="c-B49"><use href="#wt" x="93.7" y="297.3"/></g>
<g id="c-B50"><use href="#ws" x="119" y="300.7"/></g>
<g id="c-B51"><use href="#bt" x="102" y="304.3"/></g>
<g id="c-B52"><use href="#bt" x="76.7" y="305.3"/></g>
<g id="c-B53"><use href="#bt" x="87" y="304"/></g>
<g id="c-B54"><use href="#bm" x="126.3" y="303.7"/></g>
<g id="c-B55"><use href="#ws" x="99" y="309.3"/></g>
<g id="c-B56"><use href="#bs" x="120.3" y="308.7"/></g>
<g id="c-B57"><use href="#ws" x="102.7" y="315.7"/></g>
<g id="c-B58"><use href="#bs" x="118" y="318.7"/></g>
<g id="c-B59"><use href="#ws" x="136.7" y="326.7"/></g>
<g id="c-B60"><use href="#bt" x="103" y="329"/></g>
<g id="c-I1"><use href="#ws" x="24" y="245.3"/></g>
<g id="c-I2"><use href="#bs" x="206.3" y="202.7"/></g>
<g id="c-I3"><use href="#ws" x="195" y="214.7"/></g>
<g id="c-I4"><use href="#ws" x="191" y="240.3"/></g>
<g id="c-I5"><use href="#ws" x="204.3" y="236.3"/></g>
<g id="c-I6"><use href="#bs" x="194" y="266.3"/></g>
</g>
<g id="legend">
<rect x="152.2" y="362.2" width="5" height="5" fill="#fff" stroke="#333" stroke-width="1"/>
<text class="lg" x="170.7" y="370.5">Non adopters</text>
<circle cx="283" cy="364.7" r="3" fill="#f2553e" stroke="#333" stroke-width="0.8"/>
<text class="lg" x="297.7" y="370.5">New adopters</text>
<circle cx="410.3" cy="364.7" r="3" fill="#3b77ad" stroke="#333" stroke-width="0.8"/>
<text class="lg" x="425.7" y="370.5">Adopters</text>
</g>
</svg>
